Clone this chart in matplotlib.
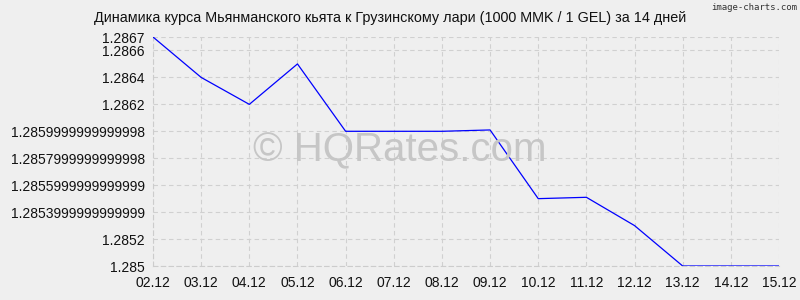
import matplotlib
matplotlib.use("Agg")
import matplotlib.pyplot as plt

plt.rcParams["font.family"] = ["Liberation Sans", "DejaVu Sans"]

# Rate data (1000 MMK / 1 GEL)
dates = ["02.12", "03.12", "04.12", "05.12", "06.12", "07.12", "08.12",
         "09.12", "10.12", "11.12", "12.12", "13.12", "14.12", "15.12"]
rates = [1.2867, 1.2864, 1.2862, 1.2865, 1.2860, 1.28600, 1.28600,
         1.28601, 1.28550, 1.28551, 1.2853, 1.2850, 1.2850, 1.2850]

ytick_values = [1.2867, 1.2866, 1.2864, 1.2862, 1.2860, 1.2858,
                1.2856, 1.2854, 1.2852, 1.2850]
ytick_labels = ["1.2867", "1.2866", "1.2864", "1.2862", "1.2859999999999998",
                "1.2857999999999998", "1.2855999999999999", "1.2853999999999999",
                "1.2852", "1.285"]

title = "Динамика курса Мьянманского кьята к Грузинскому лари (1000 MMK / 1 GEL) за 14 дней"

bg = "#efefef"
fig = plt.figure(figsize=(8, 3), dpi=100, facecolor=bg)
ax = fig.add_axes([153 / 800, 1 - 266 / 300, (779 - 153) / 800, (266 - 37) / 300])
ax.set_facecolor("none")

# watermark sits behind the axes
fig.text(0.5, 1 - 150 / 300, "© HQRates.com", ha="center", va="center",
         fontsize=29, color="#c6c6c6", zorder=0)

x = range(len(dates))
ax.plot(x, rates, color="#0000ff", linewidth=0.9, zorder=3)

ax.set_xlim(0, len(dates) - 1)
ax.set_ylim(1.2850, 1.2867)
ax.set_xticks(list(x))
ax.set_xticklabels(dates)
ax.set_yticks(ytick_values)
ax.set_yticklabels(ytick_labels)

ax.grid(True, color="#d0d0d0", linestyle=(0, (4, 3)), linewidth=0.8)
for side in ["top", "right"]:
    ax.spines[side].set_visible(False)
for side in ["left", "bottom"]:
    ax.spines[side].set_color("#cccccc")
    ax.spines[side].set_linestyle((0, (4, 3)))
    ax.spines[side].set_linewidth(0.8)
ax.tick_params(axis="both", length=0, labelsize=10, colors="#111111")
ax.tick_params(axis="y", pad=6)
ax.tick_params(axis="x", pad=7)

fig.text(390 / 800, 1 - 18 / 300, title, ha="center", va="center", fontsize=10.4,
         color="#111111")
fig.text(797 / 800, 1 - 8 / 300, "image-charts.com", ha="right", va="center",
         fontsize=6.5, color="#333333", family="DejaVu Sans Mono")

fig.savefig("out.png", dpi=100, facecolor=bg)
